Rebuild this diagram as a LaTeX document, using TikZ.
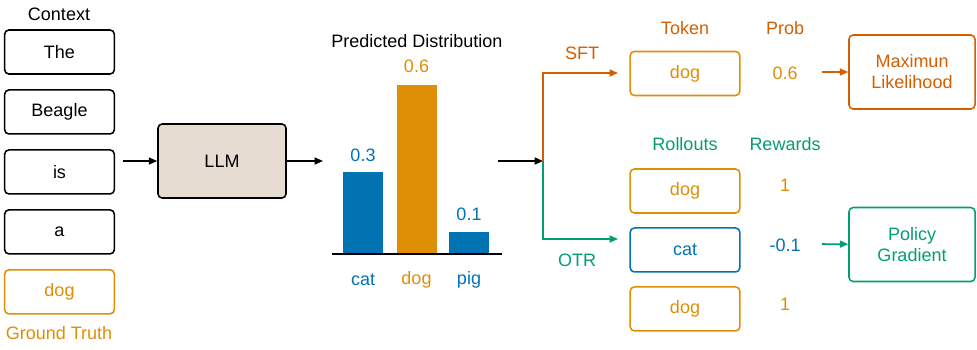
\documentclass[tikz,border=0pt]{standalone}
\usepackage{fontspec}
\setmainfont{Liberation Sans}
\usetikzlibrary{arrows.meta,positioning}
\definecolor{ctxblue}{HTML}{0173B2}
\definecolor{truthgold}{HTML}{DE8F05}
\definecolor{sftred}{HTML}{D55E00}
\definecolor{otrgreen}{HTML}{029E73}
\definecolor{llmfill}{HTML}{E6DCD2}

\begin{document}
\begin{tikzpicture}[
  x=0.025cm, y=-0.025cm,
  font=\fontsize{12.8}{15}\selectfont,
  tok/.style={draw, rounded corners=3pt, line width=1.1pt, minimum width=2.74cm,
              minimum height=1.1cm, inner sep=0pt},
  res/.style={draw, rounded corners=3pt, line width=1.1pt, minimum width=3.15cm,
              minimum height=1.85cm, align=center},
  bar/.style={anchor=south, minimum width=1cm, inner sep=0pt},
  arr/.style={-{Triangle[length=6pt,width=5pt]}, line width=1.1pt},
  node distance=0.36cm
]
  \useasboundingbox (0,0) rectangle (977,349);

  % context tokens
  \node (ctx) at (59,14) {Context};
  \node[tok] (the) at (59.5,52) {The};
  \node[tok, below=of the] (beagle) {Beagle};
  \node[tok, below=of beagle] (is) {is};
  \node[tok, below=of is] (a) {a};
  \node[tok, below=of a, draw=truthgold, text=truthgold] (truth) {dog};
  \node[text=truthgold] (gt) at (59,333) {Ground Truth};

  % model
  \node[tok, fill=llmfill, minimum width=3.2cm, minimum height=1.85cm] (llm) at (222,161) {LLM};
  \coordinate (ctxout) at (123,161);
  \coordinate (distin) at (323,161);
  \draw[arr] (ctxout) -- (llm);
  \draw[arr] (llm) -- (distin);

  % predicted distribution
  \node (dist) at (417,41) {Predicted Distribution};
  \coordinate (axl) at (332,254);
  \coordinate (axr) at (502,254);
  \node[bar, fill=ctxblue, minimum height=2.05cm] (catbar) at (363,254) {};
  \node[bar, fill=truthgold, minimum height=4.22cm] (dogbar) at (416.5,254) {};
  \node[bar, fill=ctxblue, minimum height=0.55cm] (pigbar) at (469,254) {};
  \draw[line width=0.9pt] (axl) -- (axr);
  \node[text=ctxblue] (catp) at (363,155) {0.3};
  \node[text=truthgold] (dogp) at (416.5,66) {0.6};
  \node[text=ctxblue] (pigp) at (469,214) {0.1};
  \node[text=ctxblue] (catl) at (363,280) {cat};
  \node[text=truthgold] (dogl) at (416.5,280) {dog};
  \node[text=ctxblue] (pigl) at (469,280) {pig};

  % split into SFT / OTR
  \coordinate (distout) at (498,161);
  \coordinate (split) at (543,161);
  \coordinate (sftend) at (618,73);
  \coordinate (otrend) at (618,239);
  \draw[arr] (distout) -- (split);
  \draw[arr, sftred] (split) |- (sftend);
  \draw[arr, otrgreen] (split) |- (otrend);
  \node[text=sftred] (sft) at (582,53) {SFT};
  \node[text=otrgreen] (otr) at (577,260) {OTR};

  % SFT branch
  \node[text=sftred] (tokhd) at (685,28) {Token};
  \node[text=sftred] (probhd) at (785,28) {Prob};
  \node[tok, draw=truthgold, text=truthgold] (sfttok) at (685,73.5) {dog};
  \node[text=truthgold] (sftprob) at (785,73) {0.6};
  \node[res, draw=sftred, text=sftred] (mle) at (912,72) {Maximun\\Likelihood};
  \coordinate (mlein) at (822,72);
  \draw[arr, sftred] (mlein) -- (mle);

  % OTR branch
  \node[text=otrgreen] (rollhd) at (685,144) {Rollouts};
  \node[text=otrgreen] (rewhd) at (785,144) {Rewards};
  \node[tok, draw=truthgold, text=truthgold] (roll1) at (685,191) {dog};
  \node[tok, draw=ctxblue, text=ctxblue, below=0.335cm of roll1] (roll2) {cat};
  \node[tok, draw=truthgold, text=truthgold, below=0.335cm of roll2] (roll3) {dog};
  \node[text=truthgold] (rew1) at (785,185) {1};
  \node[text=ctxblue] (rew2) at (785,245) {-0.1};
  \node[text=truthgold] (rew3) at (785,304) {1};
  \node[res, draw=otrgreen, text=otrgreen] (pg) at (912,244.5) {Policy\\Gradient};
  \coordinate (pgin) at (822,244);
  \draw[arr, otrgreen] (pgin) -- (pg);
\end{tikzpicture}
\end{document}
